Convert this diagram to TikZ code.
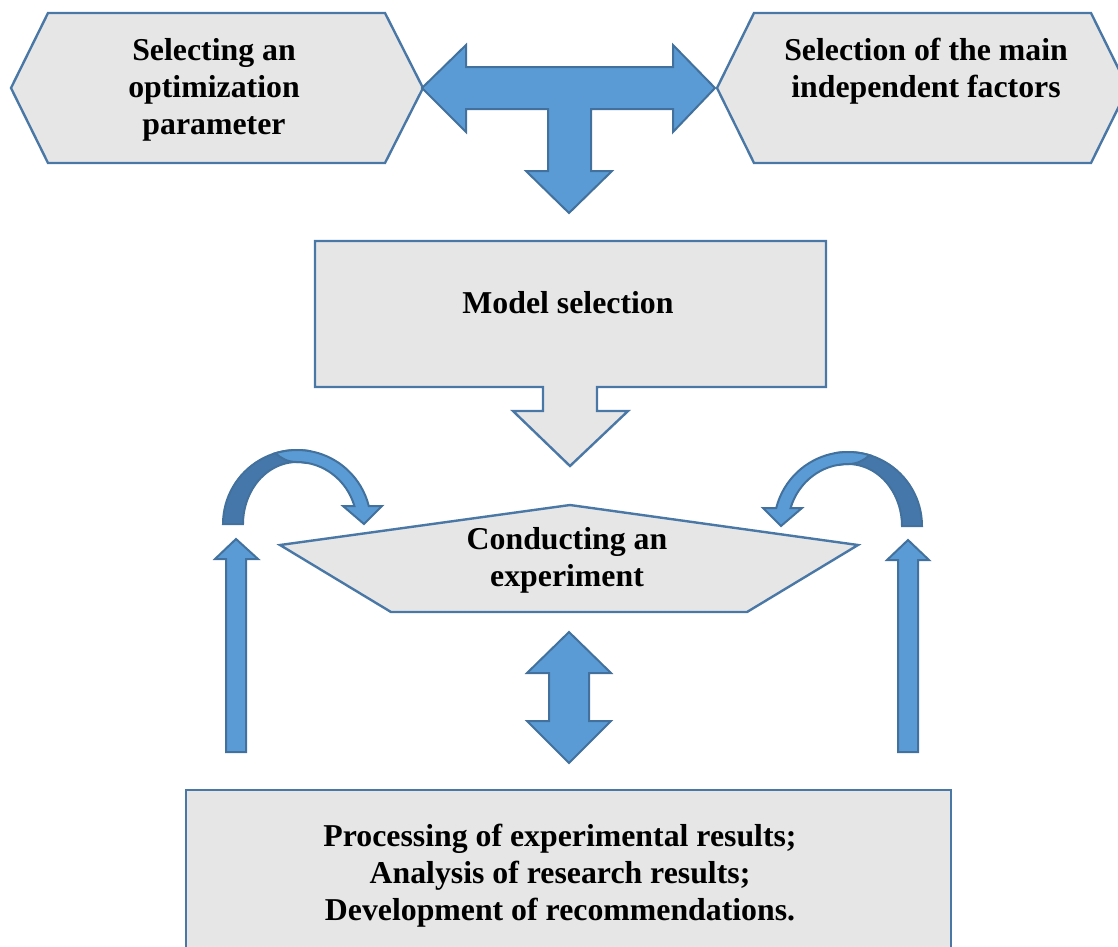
\documentclass[tikz,border=0pt]{standalone}
\usepackage{fontspec}
\setmainfont{Liberation Serif}
\definecolor{blfill}{HTML}{5B9BD5}
\definecolor{blline}{HTML}{41719C}
\definecolor{bldark}{HTML}{4677AA}
\definecolor{gfill}{HTML}{E6E6E6}
\definecolor{gline}{HTML}{4A78A6}
\tikzset{
  blk/.style={fill=blfill, draw=blline, line width=2pt, line join=miter},
  blkdark/.style={fill=bldark, draw=blline, line width=2pt, line join=miter},
  gshape/.style={fill=gfill, draw=gline, line width=2.4pt, line join=miter},
  lbl/.style={font=\bfseries\fontsize{31.8}{37}\selectfont, align=center, inner sep=0pt},
  curvarr/.pic={
    \path[blkdark] (-74,0) arc[start angle=180, end angle=280, radius=74]
      -- (9.38,-61.06) arc[start angle=280, end angle=180, x radius=54, y radius=62] -- cycle;
    \path[blk] (-21.64,-70.77) arc[start angle=253, end angle=346, radius=74]
      -- (85,-18) -- (67,0) -- (46,-18) -- (57.4,-18)
      arc[start angle=343.1, end angle=270, x radius=60, y radius=62]
      .. controls (-10,-62) and (-16,-66) .. (-21.64,-70.77) -- cycle;
  }
}
\begin{document}
\begin{tikzpicture}[x=1pt,y=-1pt]
\useasboundingbox (0,0) rectangle (1118,946);
\clip (0,0) rectangle (1118,946);

% top hexagons
\path[gshape] (11,88) -- (48,13) -- (385,13) -- (423,88) -- (385,163) -- (48,163) -- cycle;
\path[gshape] (717,88) -- (754,13) -- (1091,13) -- (1128,88) -- (1091,163) -- (754,163) -- cycle;
\node[lbl] (optpar) at (214,90) {Selecting an\\optimization\\parameter};
\node[lbl] (factors) at (926,71) {Selection of the main\\independent factors};

% T-shaped block arrow
\path[blk] (422,88) -- (466,45) -- (466,67) -- (673,67) -- (673,45) -- (715,88)
  -- (673,132) -- (673,109) -- (591,109) -- (591,171) -- (612,171) -- (569,213)
  -- (526,171) -- (548,171) -- (548,109) -- (466,109) -- (466,132) -- cycle;

% model selection box with down arrow
\path[gshape] (315,241) -- (826,241) -- (826,387) -- (597,387) -- (597,411) -- (628,411)
  -- (570,466) -- (513,411) -- (543,411) -- (543,387) -- (315,387) -- cycle;
\node[lbl] (model) at (568,303) {Model selection};

% curved arrows
\pic at (297,524) {curvarr};
\pic[xscale=-1] at (848,526) {curvarr};

% experiment pentagon
\path[gshape] (280,545) -- (570,505) -- (858,545) -- (747,612) -- (391,612) -- cycle;
\node[lbl] (exp) at (567,560) {Conducting an\\experiment};

% vertical up arrows
\path[blk] (236,539) -- (258,559) -- (246,559) -- (246,752) -- (226,752) -- (226,559) -- (215,559) -- cycle;
\path[blk] (908,540) -- (929,560) -- (918,560) -- (918,752) -- (898,752) -- (898,560) -- (887,560) -- cycle;

% double arrow
\path[blk] (569,632) -- (611,673) -- (589,673) -- (589,721) -- (611,721) -- (569,763)
  -- (527,721) -- (549,721) -- (549,673) -- (527,673) -- cycle;

% bottom box
\path[gshape] (186,790) rectangle (951,960);
\node[lbl] (results) at (560,876) {Processing of experimental results;\\Analysis of research results;\\Development of recommendations.};
\end{tikzpicture}
\end{document}
